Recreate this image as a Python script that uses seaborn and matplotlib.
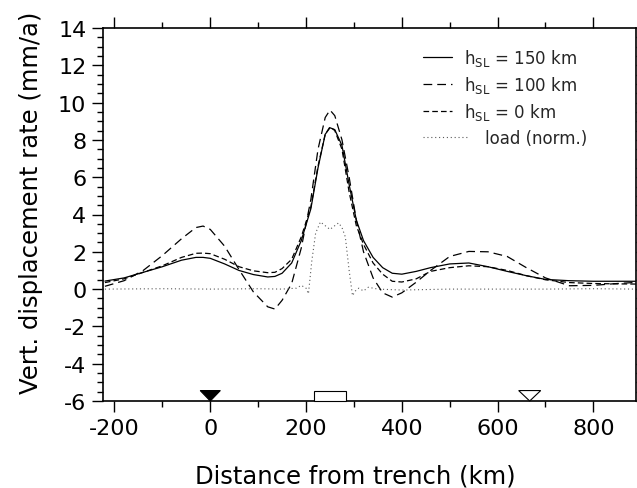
import numpy as np
import pandas as pd
import matplotlib
matplotlib.use("Agg")
import matplotlib.pyplot as plt
import seaborn as sns
from matplotlib.legend_handler import HandlerLine2D
from matplotlib.ticker import MultipleLocator

# ---------------- data ----------------
x_km = [-220, -180, -140, -100, -60, -30, -15, 0, 30, 60, 90, 120, 135, 150, 170, 190,
        210, 225, 240, 250, 260, 275, 290, 305, 320, 340, 360, 380, 400, 430, 460,
        500, 540, 580, 620, 660, 700, 750, 800, 850, 890]

h150 = [0.43, 0.6, 0.9, 1.2, 1.55, 1.7, 1.7, 1.65, 1.35, 1.0, 0.78, 0.65, 0.68, 0.85, 1.4, 2.6,
        4.3, 6.5, 8.3, 8.65, 8.55, 7.7, 5.6, 3.7, 2.6, 1.7, 1.15, 0.85, 0.8, 0.95, 1.15,
        1.35, 1.4, 1.2, 0.95, 0.72, 0.52, 0.45, 0.42, 0.42, 0.42]

h100 = [0.15, 0.45, 1.0, 1.8, 2.7, 3.3, 3.38, 3.2, 2.3, 1.05, -0.15, -0.95, -1.07, -0.6, 0.3, 2.2,
        4.8, 7.5, 9.2, 9.6, 9.3, 8.0, 6.0, 3.7, 2.0, 0.6, -0.2, -0.43, -0.2, 0.37, 1.0,
        1.75, 2.02, 2.0, 1.75, 1.15, 0.6, 0.18, 0.2, 0.3, 0.36]

h0 = [0.35, 0.55, 0.9, 1.25, 1.7, 1.92, 1.93, 1.9, 1.6, 1.2, 0.98, 0.88, 0.9, 1.1, 1.6, 2.8,
      4.4, 6.6, 8.3, 8.7, 8.5, 7.5, 5.2, 3.4, 2.4, 1.4, 0.8, 0.42, 0.38, 0.55, 0.95,
      1.15, 1.25, 1.2, 1.0, 0.72, 0.5, 0.35, 0.3, 0.28, 0.27]

x_load = [-220, -100, 0, 100, 150, 180, 190, 200, 205, 212, 220, 230, 240, 250, 260, 268,
          275, 282, 290, 297, 303, 310, 320, 330, 350, 400, 500, 600, 700, 800, 890]
y_load = [0.0, 0.02, 0.0, 0.02, 0.0, 0.05, 0.2, 0.05, -0.25, 1.5, 3.0, 3.6, 3.4, 3.2, 3.4, 3.55,
          3.3, 2.8, 1.0, -0.35, -0.1, 0.05, -0.1, 0.1, 0.0, -0.05, 0.0, 0.0, 0.0, 0.02, 0.0]

labels = [r"h$_{\rm SL}$ = 150 km", r"h$_{\rm SL}$ = 100 km", r"h$_{\rm SL}$ = 0 km", "load (norm.)"]

trench_x = 0.0
arc_x = 667.0
load_box = [217.0, 283.0]

xticks = [-200, 0, 200, 400, 600, 800]
yticks = [-6, -4, -2, 0, 2, 4, 6, 8, 10, 12, 14]

# ---------------- style ----------------
sns.set_theme(style="ticks")
plt.rcParams["font.family"] = ["DejaVu Sans"]
plt.rcParams["mathtext.fontset"] = "dejavusans"
plt.rcParams["axes.unicode_minus"] = False

fig = plt.figure(figsize=(6.37, 4.89), dpi=100)
ax = fig.add_axes([103 / 637, 1 - 402 / 489, 533 / 637, 373 / 489])

df = pd.DataFrame({"x": x_km, "a": h150, "b": h100, "c": h0})
dl = pd.DataFrame({"x": x_load, "y": y_load})

lw = 0.9
sns.lineplot(data=df, x="x", y="a", ax=ax, color="black", lw=lw, label=labels[0])
sns.lineplot(data=df, x="x", y="b", ax=ax, color="black", lw=lw, label=labels[1],
             linestyle=(0, (7, 4)))
sns.lineplot(data=df, x="x", y="c", ax=ax, color="black", lw=lw, label=labels[2],
             linestyle=(0, (4.5, 2.5)))
sns.lineplot(data=dl, x="x", y="y", ax=ax, color="0.35", lw=0.8, label=labels[3],
             linestyle=(0, (1, 2.5)))

# bottom symbols
ymin = -6
tri_h = 0.56
ax.fill([trench_x - 21, trench_x + 21, trench_x], [ymin + tri_h, ymin + tri_h, ymin],
        color="black", lw=0.8, zorder=5, clip_on=False)
ax.fill([arc_x - 23, arc_x + 23, arc_x], [ymin + tri_h, ymin + tri_h, ymin],
        facecolor="white", edgecolor="black", lw=0.8, zorder=5, clip_on=False)
ax.fill([load_box[0], load_box[1], load_box[1], load_box[0]],
        [ymin, ymin, ymin + 0.56, ymin + 0.56],
        facecolor="white", edgecolor="black", lw=0.8, zorder=5, clip_on=False)

ax.set_xlim(-224, 889)
ax.set_ylim(-6, 14)
ax.set_xticks(xticks)
ax.set_yticks(yticks)
ax.xaxis.set_minor_locator(MultipleLocator(100))
ax.yaxis.set_minor_locator(MultipleLocator(0.5))
ax.tick_params(which="major", direction="out", length=8, width=1.0, labelsize=16,
               top=True, right=True, color="black", labelcolor="black", pad=4)
ax.tick_params(which="minor", direction="out", length=4, width=1.0,
               top=True, right=True, color="black")
for s in ax.spines.values():
    s.set_linewidth(1.2)
    s.set_color("black")

ax.set_xlabel("Distance from trench (km)", fontsize=17.5, color="black")
ax.set_ylabel("Vert. displacement rate (mm/a)", fontsize=17.5, color="black")
ax.xaxis.set_label_coords(0.473, -0.168)
ax.yaxis.set_label_coords(-0.113, 0.534)


class LongHandler(HandlerLine2D):
    def create_artists(self, legend, orig_handle, xdescent, ydescent, width, height,
                       fontsize, trans):
        return super().create_artists(legend, orig_handle, xdescent, ydescent,
                                      width * 1.55, height, fontsize, trans)


handles, labs = ax.get_legend_handles_labels()
labs[3] = "    " + labs[3]
leg = ax.legend(handles, labs, loc="upper left", bbox_to_anchor=(0.6, 0.95),
                frameon=False, fontsize=12, handlelength=1.75, handletextpad=0.75,
                labelspacing=0.38, borderpad=0, borderaxespad=0,
                handler_map={handles[3]: LongHandler()})

fig.savefig("out.png", dpi=100)
